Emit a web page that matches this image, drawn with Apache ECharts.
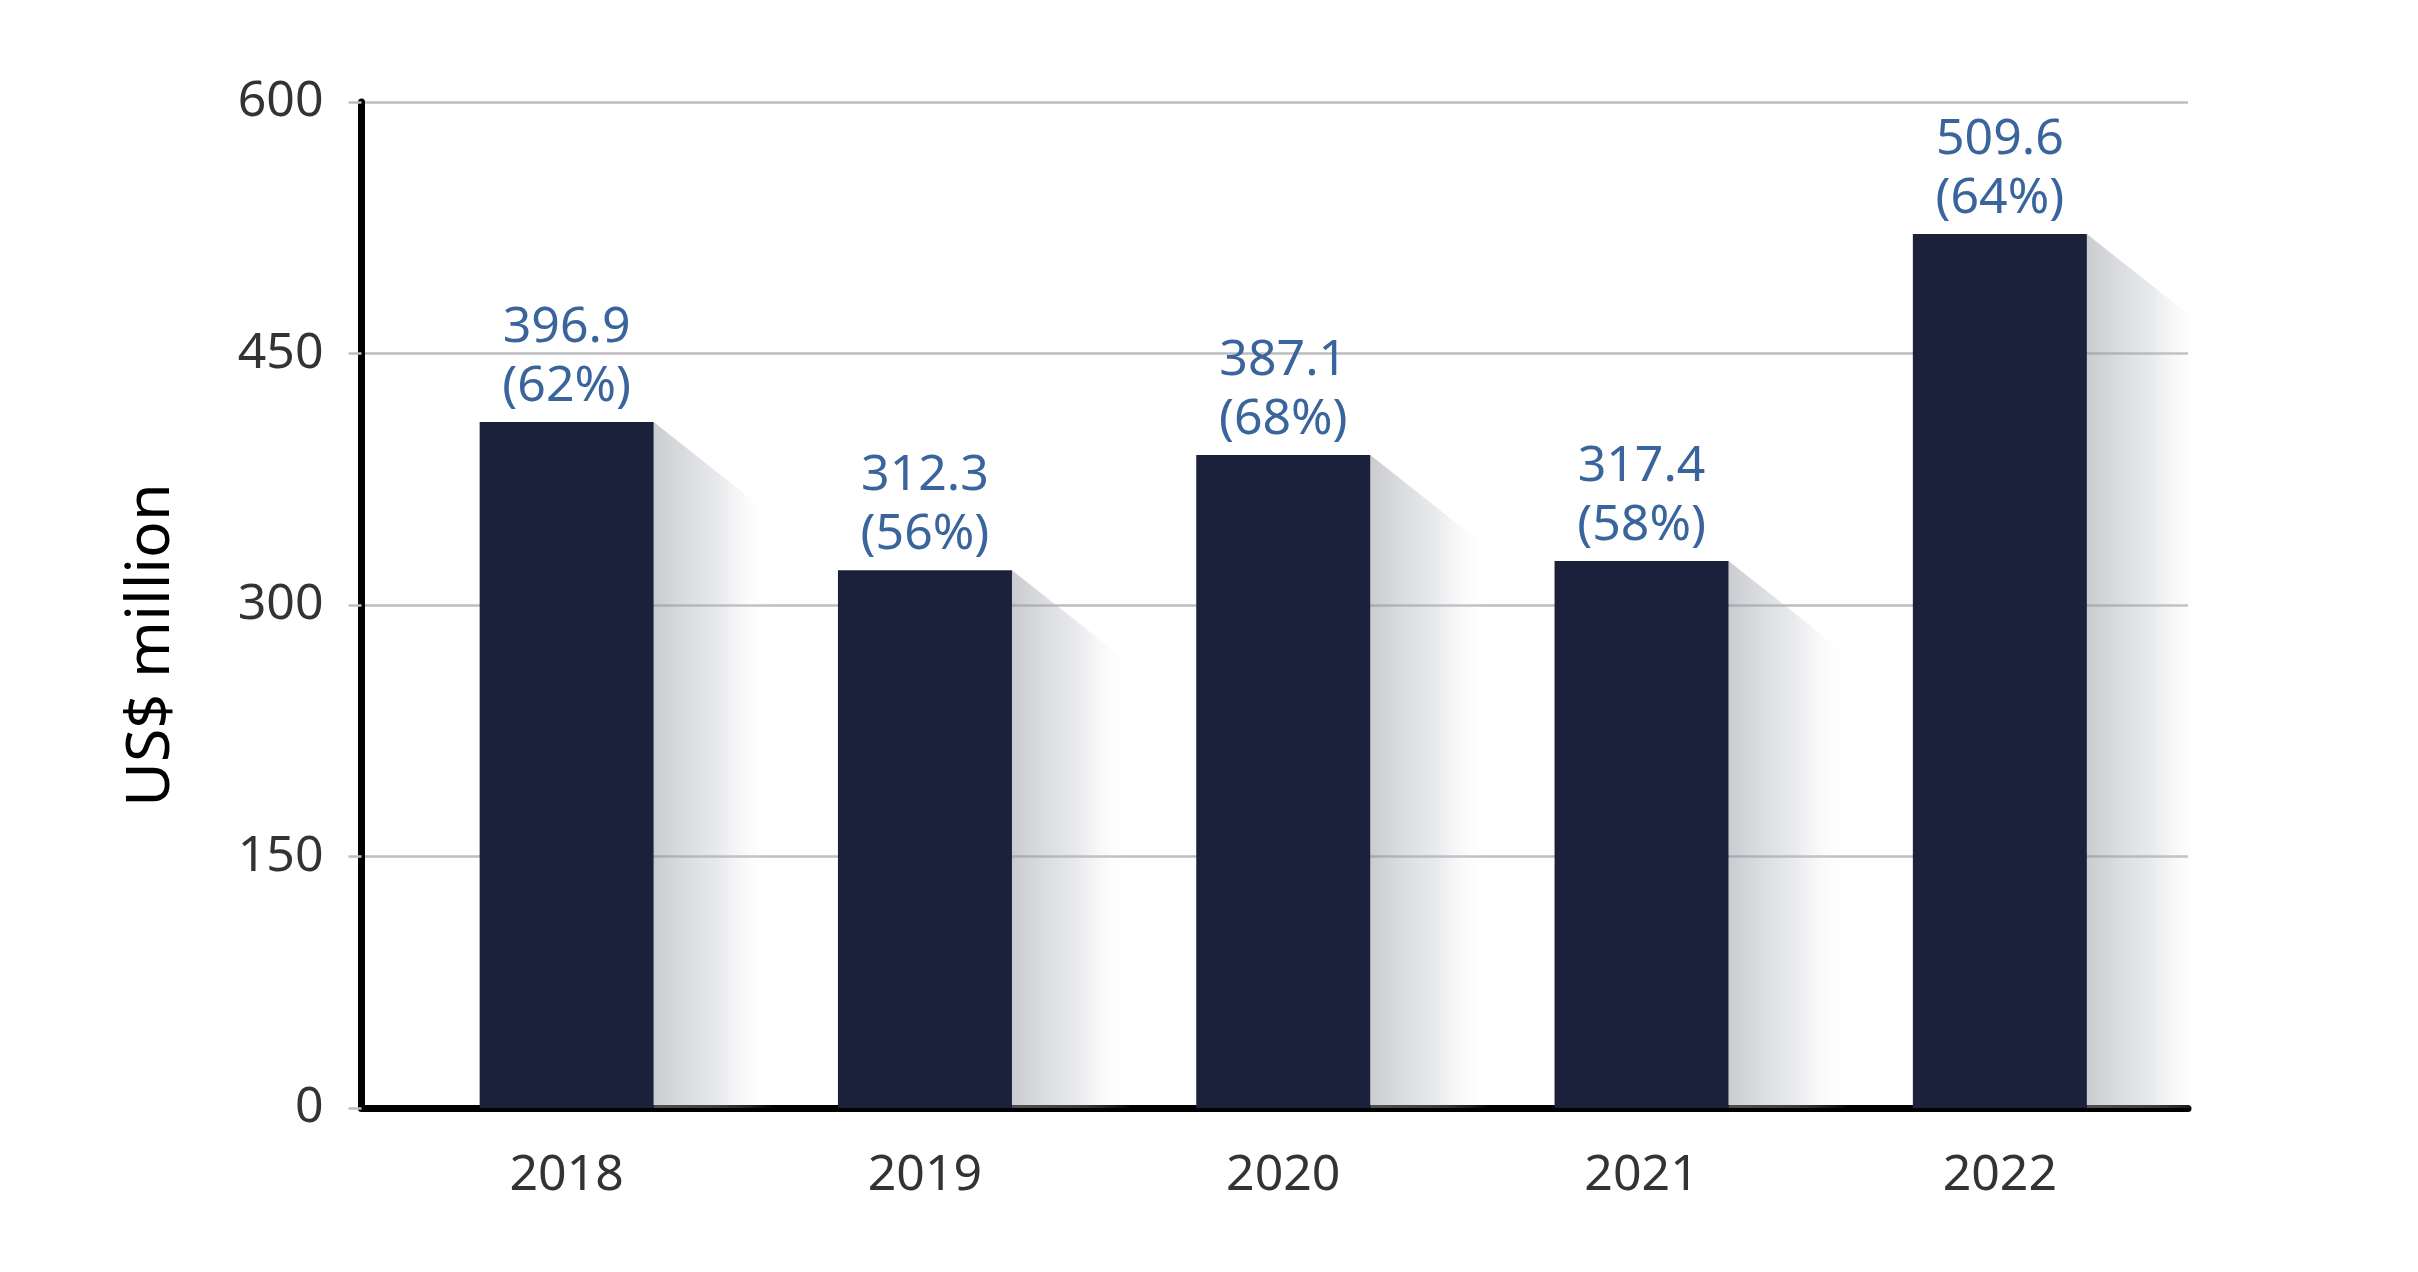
<!DOCTYPE html>
<html>
<head>
<meta charset="utf-8">
<script src="https://cdn.jsdelivr.net/npm/echarts@6/dist/echarts.min.js"></script>
<style>
html,body{margin:0;padding:0;background:#fff;}
#chart{width:2418px;height:1272px;}
</style>
</head>
<body>
<div id="chart"></div>
<script>
// Data
const categories = ['2018', '2019', '2020', '2021', '2022'];
// bar heights as drawn in the picture
const barValues = [409.1, 320.8, 389.4, 326.2, 521.2];
// values printed on the labels
const labelValues = [396.9, 312.3, 387.1, 317.4, 509.6];
const shares = [62, 56, 68, 58, 64];
const yTicks = { min: 0, max: 600, interval: 150 };
const yTitle = 'US$ million';

const FONT = 'Noto Sans';
const BAR_W = 174;
const SHADOW_W = 118;

const chart = echarts.init(document.getElementById('chart'));
chart.setOption({
  backgroundColor: '#ffffff',
  animation: false,
  grid: [
    { left: 387.5, right: 239, top: 102, bottom: 164 },
    { left: 361.5, right: 230, top: 102, bottom: 164 }
  ],
  graphic: [
    {
      type: 'text', x: 152, y: 645, rotation: Math.PI / 2,
      style: {
        text: yTitle, fontFamily: FONT, fontSize: 61, fill: '#000000',
        textAlign: 'center', textVerticalAlign: 'middle'
      }
    }
  ],
  xAxis: [
    {
      type: 'category', gridIndex: 0, data: categories,
      axisLine: { show: false }, axisTick: { show: false },
      axisLabel: { fontFamily: FONT, fontSize: 50, color: '#333333', margin: 43 },
      splitLine: { show: false }
    },
    {
      type: 'value', gridIndex: 1, min: 0, max: 1,
      axisLine: { show: true, onZero: false, lineStyle: { color: '#000000', width: 7 } },
      axisTick: { show: false }, axisLabel: { show: false }, splitLine: { show: false }
    }
  ],
  yAxis: [
    {
      type: 'value', gridIndex: 0, min: yTicks.min, max: yTicks.max, interval: yTicks.interval,
      show: false
    },
    {
      type: 'value', gridIndex: 1, min: yTicks.min, max: yTicks.max, interval: yTicks.interval,
      axisLine: { show: true, onZero: false, lineStyle: { color: '#000000', width: 7 } },
      axisTick: { show: true, length: 13, lineStyle: { color: '#bdbdc0', width: 2.5 } },
      axisLabel: { fontFamily: FONT, fontSize: 50, color: '#333333', margin: 38 },
      splitLine: { show: true, lineStyle: { color: '#bdbdc0', width: 2.5 } }
    }
  ],
  series: [
    {
      type: 'custom', xAxisIndex: 0, yAxisIndex: 0,
      data: barValues.map((v, i) => [i, v]),
      encode: { x: 0, y: 1 },
      silent: true,
      renderItem: function (params, api) {
        const top = api.coord([api.value(0), api.value(1)]);
        const base = api.coord([api.value(0), 0]);
        const xr = top[0] + BAR_W / 2;
        const w = SHADOW_W;
        return {
          type: 'polygon',
          shape: { points: [[xr, top[1]], [xr + w, top[1] + 0.79 * w], [xr + w, base[1]], [xr, base[1]]] },
          style: {
            fill: new echarts.graphic.LinearGradient(0, 0, 1, 0, [
              { offset: 0, color: 'rgba(150,153,162,0.5)' },
              { offset: 0.55, color: 'rgba(185,188,195,0.32)' },
              { offset: 1, color: 'rgba(255,255,255,0.02)' }
            ])
          }
        };
      },
      z: 1
    },
    {
      type: 'bar', xAxisIndex: 0, yAxisIndex: 0,
      data: barValues,
      barWidth: BAR_W,
      itemStyle: { color: '#1b213a' },
      label: {
        show: true, position: 'top', distance: 6,
        fontFamily: FONT, fontSize: 50, lineHeight: 59, color: '#3a659c',
        formatter: function (p) {
          return labelValues[p.dataIndex].toFixed(1) + '\n(' + shares[p.dataIndex] + '%)';
        }
      },
      z: 2
    }
  ]
});
</script>
</body>
</html>
